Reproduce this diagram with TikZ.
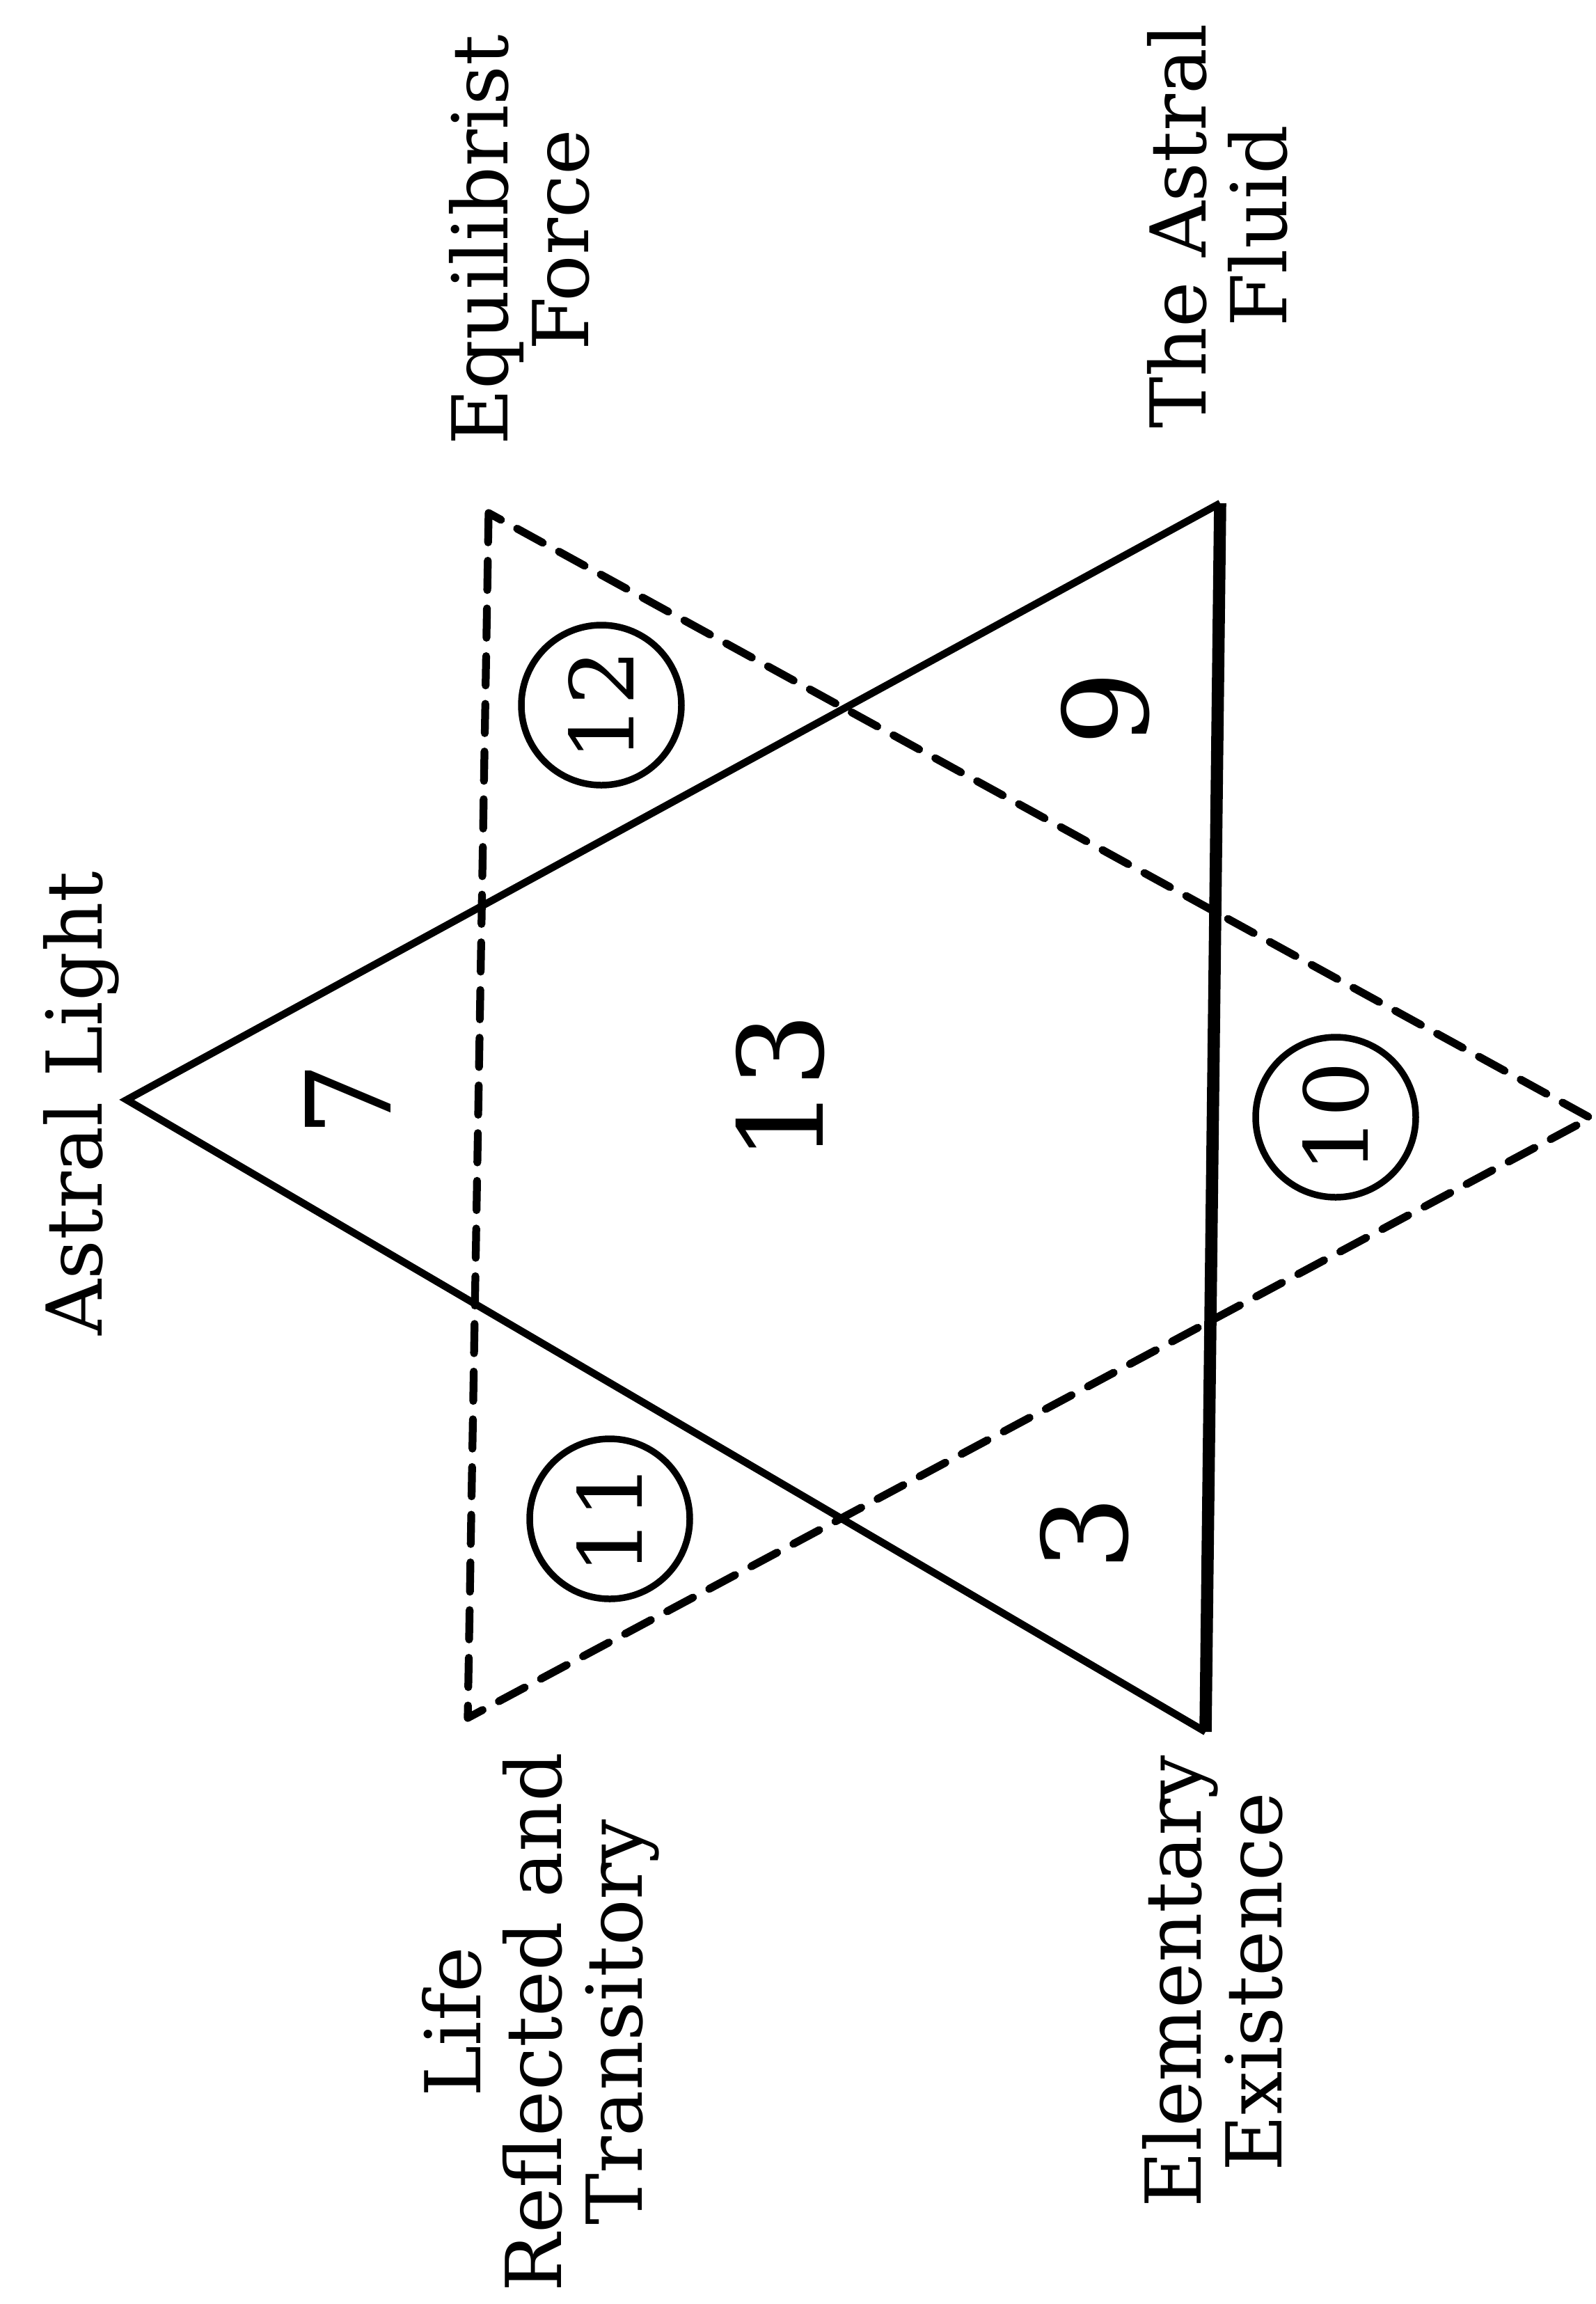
\documentclass[tikz,border=0pt]{standalone}
\usepackage{fontspec}
\setmainfont{DejaVu Serif}
\usepackage{tikz}
\usetikzlibrary{positioning}

\begin{document}
\begin{tikzpicture}[
  lbl/.style={rotate=90,align=center,inner sep=0pt,font=\fontsize{31.5}{33}\selectfont},
  num/.style={rotate=90,inner sep=0pt,font=\fontsize{48}{48}\selectfont},
  cnum/.style={rotate=90,circle,draw,line width=2.7pt,minimum size=2.3cm,inner sep=0pt,font=\fontsize{36}{36}\selectfont},
  firm/.style={line width=3pt,line join=miter},
  broken/.style={line width=3.2pt,line cap=round,line join=round,dash pattern=on 12pt off 7.5pt}
]
\useasboundingbox (0,0) rectangle (22.93,-33.10);
% corners of the two triangles
\coordinate (light)   at (1.82,-15.80);
\coordinate (fluid)   at (17.53,-7.23);
\coordinate (element) at (17.32,-24.88);
\coordinate (force)   at (7.02,-7.37);
\coordinate (life)    at (6.72,-24.68);
\coordinate (tip)     at (22.85,-16.06);
\draw[firm] (element) -- (light) -- (fluid);
\draw[firm,line width=5pt] (fluid) -- (element);
\draw[broken] (force) -- (life) -- (tip) -- cycle;
% labels
\node[lbl,anchor=base] (Lal) at (1.46,-15.85) {Astral Light};
\node[lbl] (Lef) at (7.46,-3.45)  {Equilibrist\\Force};
\node[lbl] (Laf) at (17.49,-3.25) {The Astral\\Fluid};
\node[lbl] (Llr) at (7.77,-29.05) {Life\\Reflected and\\Transitory};
\node[lbl] (Lee) at (17.42,-28.47) {Elementary\\Existence};
% numbers
\node[num] (n7)  at (5.00,-15.80)  {7};
\node[num] (n13) at (11.21,-15.62) {13};
\node[num] (n9)  at (15.88,-10.18) {9};
\node[num] (n3)  at (15.58,-22.03) {3};
\node[cnum] (c12) at (8.64,-10.13)  {12};
\node[cnum] (c11) at (8.76,-21.82)  {11};
\node[cnum] (c10) at (19.19,-16.05) {10};
\end{tikzpicture}
\end{document}
